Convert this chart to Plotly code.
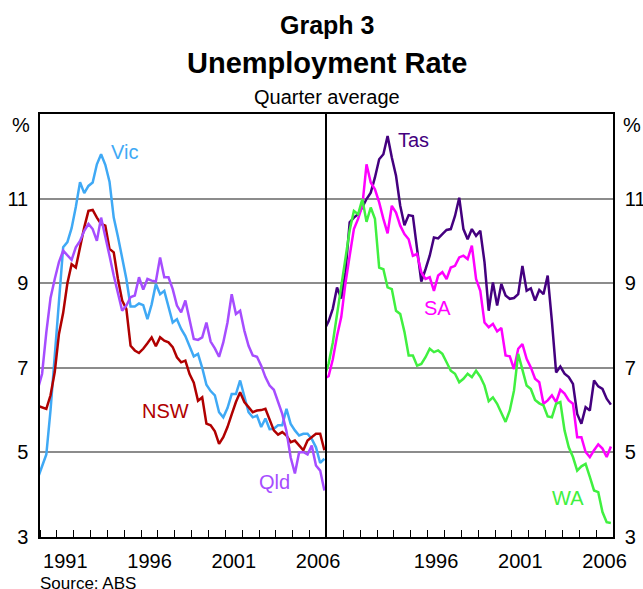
import pandas as pd
import plotly.graph_objects as go

# quarterly, 1989Q4 to 2006Q4 (first point sits just left of the axis and is clipped)
quarters = pd.period_range("1989Q4", "2006Q4", freq="Q")
x_years = [q.year + (q.quarter - 0.5) / 4 for q in quarters]

vic = [4.4, 4.7, 4.95, 6.0, 7.3, 8.6, 9.85, 9.97, 10.3, 10.8,
       11.39, 11.13, 11.3, 11.38, 11.81, 12.05, 11.8, 11.4, 10.55, 10.1,
       9.6, 9.1, 8.45, 8.45, 8.52, 8.48, 8.15, 8.5, 8.98, 8.74,
       8.82, 8.43, 8.07, 8.15, 7.92, 7.75, 7.5, 7.27, 7.33, 7.0,
       6.6, 6.45, 6.35, 5.95, 5.83, 6.05, 6.38, 6.38, 6.7, 6.3,
       5.95, 5.83, 5.87, 5.6, 5.8, 5.55, 5.56, 5.64, 5.64, 6.03,
       5.67, 5.52, 5.4, 5.44, 5.44, 5.32, 5.12, 4.75, 4.85]
nsw = [6.1, 6.06, 6.03, 6.35, 6.9, 7.8, 8.3, 9.0, 9.45, 9.37,
       9.85, 10.32, 10.71, 10.73, 10.55, 10.4, 10.36, 9.81, 9.73, 9.1,
       8.59, 8.39, 7.52, 7.41, 7.35, 7.45, 7.58, 7.72, 7.51, 7.72,
       7.64, 7.6, 7.49, 7.25, 7.13, 7.17, 6.85, 6.65, 6.22, 6.3,
       5.68, 5.64, 5.5, 5.2, 5.36, 5.6, 5.9, 6.19, 6.42, 6.19,
       6.07, 5.95, 5.99, 6.0, 6.03, 5.75, 5.52, 5.42, 5.48, 5.4,
       5.24, 5.28, 5.16, 5.05, 5.28, 5.36, 5.44, 5.44, 5.05]
qld = [6.5, 6.86, 7.84, 8.65, 9.1, 9.5, 9.77, 9.65, 9.55, 9.85,
       10.0, 10.24, 10.4, 10.28, 10.0, 10.55, 10.12, 9.65, 9.18, 8.74,
       8.35, 8.47, 8.67, 8.71, 9.14, 8.85, 9.1, 9.06, 9.04, 9.61,
       9.14, 9.14, 8.86, 8.47, 8.31, 8.59, 8.1, 7.68, 7.66, 7.72,
       8.07, 7.62, 7.46, 7.26, 7.6, 8.07, 8.74, 8.27, 8.35, 7.88,
       7.52, 7.29, 7.26, 7.05, 6.78, 6.58, 6.48, 6.2, 5.91, 5.5,
       4.88, 4.5, 5.0, 5.01, 4.95, 5.16, 4.69, 4.57, 4.1]
tas = [7.9, 8.1, 8.4, 8.9, 8.64, 9.26, 10.44, 10.55, 10.63, 10.79,
       10.99, 11.14, 11.5, 11.93, 12.05, 12.48, 11.97, 11.54, 10.83, 10.37,
       10.61, 10.59, 9.81, 9.04, 9.33, 9.65, 10.08, 10.06, 10.16, 10.26,
       10.28, 10.59, 11.02, 10.28, 10.04, 10.28, 10.12, 10.24, 9.5, 8.35,
       9.02, 8.47, 8.98, 8.71, 8.63, 8.65, 8.74, 9.41, 8.82, 8.88,
       8.59, 8.84, 8.74, 9.18, 8.1, 6.89, 7.03, 6.86, 6.78, 6.62,
       5.91, 5.68, 6.07, 5.99, 6.7, 6.56, 6.5, 6.27, 6.13]
sa = [6.75, 6.8, 7.2, 7.75, 8.2, 9.0, 9.65, 10.28, 10.52, 10.83,
      11.81, 11.38, 11.22, 10.91, 10.52, 10.18, 10.83, 10.67, 10.36, 10.16,
      10.04, 9.65, 9.69, 9.26, 9.1, 9.14, 8.82, 9.18, 9.26, 9.1,
      9.37, 9.41, 9.61, 9.65, 9.57, 9.89, 9.1, 8.82, 8.07, 7.96,
      8.04, 7.86, 7.94, 7.29, 7.27, 6.97, 7.45, 7.56, 7.21, 7.01,
      6.74, 6.66, 6.15, 6.23, 6.35, 6.19, 6.48, 6.39, 6.23, 6.15,
      5.36, 5.36, 5.01, 4.89, 5.05, 5.19, 5.09, 4.89, 5.14]
wa = [6.8, 7.1, 7.6, 8.25, 8.95, 9.6, 10.25, 10.71, 10.63, 10.99,
      10.45, 10.79, 10.52, 9.37, 9.33, 8.9, 8.86, 8.35, 8.27, 7.85,
      7.29, 7.29, 7.05, 7.09, 7.25, 7.45, 7.37, 7.41, 7.33, 7.13,
      6.93, 6.86, 6.66, 6.74, 6.86, 6.78, 6.93, 6.79, 6.58, 6.21,
      6.3, 6.15, 5.95, 5.72, 5.99, 6.46, 7.33, 6.97, 6.58, 6.5,
      6.24, 6.16, 6.11, 5.85, 5.83, 6.15, 6.19, 5.52, 5.12, 4.89,
      4.57, 4.67, 4.73, 4.42, 4.1, 4.06, 3.59, 3.35, 3.33]

y_ticks = [3, 5, 7, 9, 11]
left_year_labels = ["1991", "1996", "2001", "2006"]
right_year_labels = ["1996", "2001", "2006"]

FONT = "Liberation Sans, Arial, sans-serif"

left_series = [("Vic", vic, "#3FA9F5", 1995.0, 12.1),
               ("NSW", nsw, "#B00000", 1997.45, 5.99),
               ("Qld", qld, "#A64DFF", 2003.9, 4.31)]
right_series = [("Tas", tas, "#44007F", 1995.15, 12.38),
                ("SA", sa, "#FF00FF", 1996.6, 8.42),
                ("WA", wa, "#40F040", 2004.3, 3.93)]

fig = go.Figure()
annotations = []

for name, vals, color, lx, ly in left_series:
    fig.add_trace(go.Scatter(x=x_years, y=vals, mode="lines", name=name,
                             line=dict(color=color, width=2.5),
                             xaxis="x", yaxis="y"))
    annotations.append(dict(x=lx, y=ly, xref="x", yref="y", text=name,
                            showarrow=False, font=dict(color=color, size=20)))

for name, vals, color, lx, ly in right_series:
    fig.add_trace(go.Scatter(x=x_years, y=vals, mode="lines", name=name,
                             line=dict(color=color, width=2.5),
                             xaxis="x2", yaxis="y2"))
    annotations.append(dict(x=lx, y=ly, xref="x2", yref="y2", text=name,
                            showarrow=False, font=dict(color=color, size=20)))

# titles, units and source
annotations += [
    dict(x=0.5, y=1.2104, xref="paper", yref="paper", text="<b>Graph 3</b>",
         yanchor="middle", showarrow=False, font=dict(size=25)),
    dict(x=0.5, y=1.1206, xref="paper", yref="paper", text="<b>Unemployment Rate</b>",
         yanchor="middle", showarrow=False, font=dict(size=29)),
    dict(x=0.5, y=1.0402, xref="paper", yref="paper", text="Quarter average",
         yanchor="middle", showarrow=False, font=dict(size=20)),
    dict(x=-0.014, y=12.73, xref="paper", yref="y", text="%", xanchor="right",
         yanchor="middle", showarrow=False, font=dict(size=20)),
    dict(x=1.014, y=12.73, xref="paper", yref="y", text="%", xanchor="left",
         yanchor="middle", showarrow=False, font=dict(size=20)),
    dict(x=-0.0035, y=-0.109, xref="paper", yref="paper", text="Source: ABS",
         xanchor="left", yanchor="middle", showarrow=False, font=dict(size=17)),
]

xaxis_common = dict(
    range=[1990, 2007], showgrid=False, zeroline=False, automargin=False,
    showline=True, mirror=True, linecolor="black", linewidth=1.5,
    ticks="", tickfont=dict(size=20), ticklabelstandoff=5,
    minor=dict(tickmode="linear", tick0=1990, dtick=1, ticks="inside",
               ticklen=7, tickwidth=1, tickcolor="black", showgrid=False),
)
yaxis_common = dict(
    range=[3, 13], tickvals=y_ticks, ticks="", zeroline=False, automargin=False,
    showgrid=True, gridcolor="#8C8C8C", gridwidth=1.5,
    showline=True, linecolor="black", linewidth=1.5,
    tickfont=dict(size=20), ticklabelstandoff=6,
)

fig.update_layout(
    width=643, height=589,
    margin=dict(l=40, r=30, t=114, b=52, autoexpand=False),
    paper_bgcolor="white", plot_bgcolor="white",
    font=dict(family=FONT, color="black"),
    showlegend=False,
    xaxis=dict(domain=[0, 0.5], anchor="y",
               tickvals=[1991.5, 1996.5, 2001.5, 2006.5],
               ticktext=left_year_labels, **xaxis_common),
    xaxis2=dict(domain=[0.5, 1], anchor="y2",
                tickvals=[1996.5, 2001.5, 2006.5],
                ticktext=right_year_labels, **xaxis_common),
    yaxis=dict(anchor="x", side="left", mirror=False, **yaxis_common),
    yaxis2=dict(anchor="x2", side="right", mirror=True, **yaxis_common),
    annotations=annotations,
)

# drop the browser's default body margin so the figure fills the window exactly
fig.write_html("out.html", config={"displayModeBar": False},
               post_script="document.body.style.margin = '0px';")
